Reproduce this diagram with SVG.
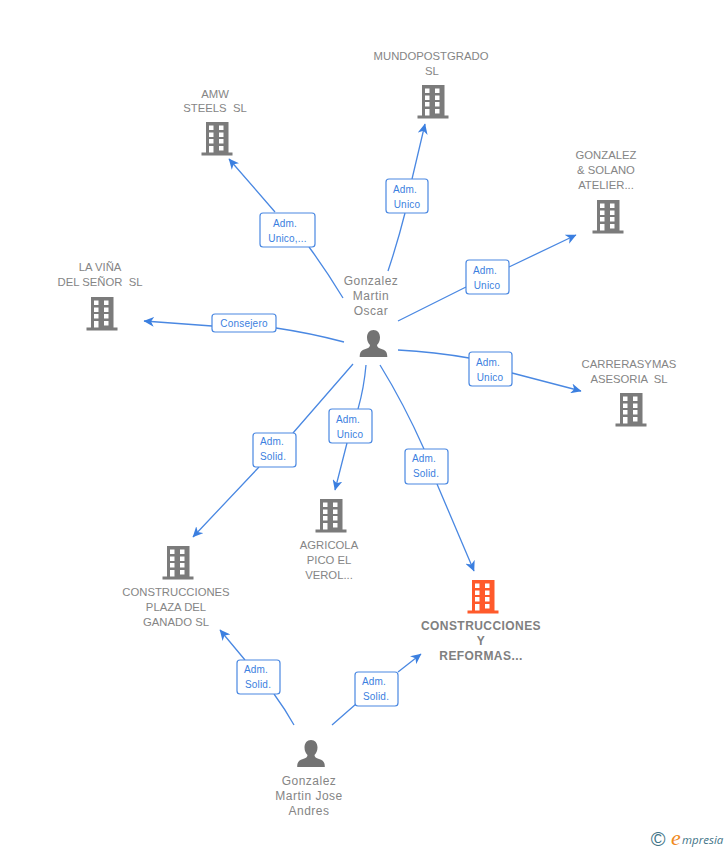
<svg xmlns="http://www.w3.org/2000/svg" width="728" height="850" viewBox="0 0 728 850">
<style>
.l{font:11.3px "Liberation Sans",Arial,sans-serif;fill:#858585;text-anchor:middle;white-space:pre}
.p{font:12px "Liberation Sans",Arial,sans-serif;fill:#858585;text-anchor:middle;letter-spacing:.5px}
.b{font:bold 12px "Liberation Sans",Arial,sans-serif;fill:#808080;text-anchor:middle;letter-spacing:.43px}
.t{font:10px "Liberation Sans",Arial,sans-serif;fill:#3b7fe0;text-anchor:middle;letter-spacing:.2px}
.box{fill:#fff;stroke:#4a88e2;stroke-width:1.2}
.c{fill:none;stroke:#4a88e2;stroke-width:1.3}
</style>
<defs>
<marker id="a" viewBox="0 0 11 10" refX="10" refY="5" markerWidth="11" markerHeight="10" markerUnits="userSpaceOnUse" orient="auto"><path d="M0 0L10.500 5L0 10L3 5Z" fill="#3b7fe0"/></marker>
<symbol id="bld" viewBox="-17 0 34 34" width="34" height="34" overflow="visible">
<path fill-rule="evenodd" fill="currentColor" d="M-11 0H11.500V30.500H15.500V33.500H-15.500V30.500H-11ZM-8 3.500V8H-3.500V3.500ZM2 3.500V8H6.500V3.500ZM-8 10.500V15H-3.500V10.500ZM2 10.500V15H6.500V10.500ZM-8 17V21.500H-3.500V17ZM2 17V21.500H6.500V17ZM-8 24V30.500H-3.500V24ZM2 24V28.500H6.500V24Z"/>
</symbol>
<symbol id="per" viewBox="-14 0 28 28" width="28" height="28" overflow="visible">
<path fill="#737373" d="M0 0C4 0 6.500 3 6.500 7.500C6.500 11 5 13.500 3.500 15C3.500 17 5 18 8 19C12 20.500 13.800 21.500 13.800 27H-13.800C-13.800 21.500 -12 20.500 -8 19C-5 18 -3.500 17 -3.500 15C-5 13.500 -6.500 11 -6.500 7.500C-6.500 3 -4 0 0 0Z"/>
</symbol>
</defs>
<g id="connectors">
<path class="c" d="M343 298Q326 270 309 247M275 212L229 159" marker-end="url(#a)"/>
<path class="c" d="M388 271Q398 241 405 213M412 179L425 124" marker-end="url(#a)"/>
<path class="c" d="M398 321L466 287M509 267L576 235" marker-end="url(#a)"/>
<path class="c" d="M398 350Q435 352 469 358M512 373L581 391" marker-end="url(#a)"/>
<path class="c" d="M344 342Q310 333 276 328M212 326L144 321" marker-end="url(#a)"/>
<path class="c" d="M366 365Q364 388 358 409M347 443L335 490" marker-end="url(#a)"/>
<path class="c" d="M353 364L293 433M259 467L193 537" marker-end="url(#a)"/>
<path class="c" d="M380 365Q404 404 424 449M437 484L474 571" marker-end="url(#a)"/>
<path class="c" d="M294 725Q285 709 274 694M245 660L220 630" marker-end="url(#a)"/>
<path class="c" d="M332 725L356 704M398 672L421 654" marker-end="url(#a)"/>
</g>
<g id="e1"><rect class="box" x="260" y="213" width="55" height="34" rx="3"/><text class="t" x="285" y="227">Adm.</text><text class="t" x="287.500" y="242">Unico,...</text></g>
<g id="e2"><rect class="box" x="386" y="179" width="42" height="34" rx="3"/><text class="t" x="405" y="193">Adm.</text><text class="t" x="407" y="208">Unico</text></g>
<g id="e3"><rect class="box" x="466" y="260" width="43" height="34" rx="3"/><text class="t" x="485" y="274">Adm.</text><text class="t" x="487" y="289">Unico</text></g>
<g id="e4"><rect class="box" x="469" y="352" width="43" height="34" rx="3"/><text class="t" x="488" y="366">Adm.</text><text class="t" x="490" y="381">Unico</text></g>
<g id="e5"><rect class="box" x="212" y="314" width="64" height="18" rx="3"/><text class="t" x="244" y="327">Consejero</text></g>
<g id="e6"><rect class="box" x="329" y="409" width="43" height="34" rx="3"/><text class="t" x="348" y="423">Adm.</text><text class="t" x="350" y="438">Unico</text></g>
<g id="e7"><rect class="box" x="253" y="433" width="43" height="34" rx="3"/><text class="t" x="272" y="445">Adm.</text><text class="t" x="273" y="460">Solid.</text></g>
<g id="e8"><rect class="box" x="405" y="449" width="43" height="35" rx="3"/><text class="t" x="424" y="462">Adm.</text><text class="t" x="426" y="477">Solid.</text></g>
<g id="e9"><rect class="box" x="237" y="660" width="43" height="34" rx="3"/><text class="t" x="256" y="673">Adm.</text><text class="t" x="258" y="688">Solid.</text></g>
<g id="e10"><rect class="box" x="355" y="672" width="43" height="34" rx="3"/><text class="t" x="374" y="685">Adm.</text><text class="t" x="376" y="700">Solid.</text></g>
<g id="oscar"><text class="p" x="371" y="285">Gonzalez</text><text class="p" x="371" y="300">Martin</text><text class="p" x="371" y="315">Oscar</text><use href="#per" x="359.500" y="330"/></g>
<g id="jose"><text class="p" x="309" y="785">Gonzalez</text><text class="p" x="309" y="800">Martin Jose</text><text class="p" x="309" y="815">Andres</text><use href="#per" x="297" y="740"/></g>
<g id="amw" color="#7b7b7b"><text class="l" x="215" y="98">AMW</text><text class="l" x="215" y="112">STEELS  SL</text><use href="#bld" x="200" y="122"/></g>
<g id="mundo" color="#7b7b7b"><text class="l" x="431" y="60">MUNDOPOSTGRADO</text><text class="l" x="432" y="75">SL</text><use href="#bld" x="416" y="85"/></g>
<g id="solano" color="#7b7b7b"><text class="l" x="606" y="159">GONZALEZ</text><text class="l" x="606" y="174">&amp; SOLANO</text><text class="l" x="606" y="189">ATELIER...</text><use href="#bld" x="591" y="200"/></g>
<g id="vina" color="#7b7b7b"><text class="l" x="100" y="271">LA VIÑA</text><text class="l" x="100" y="286">DEL SEÑOR  SL</text><use href="#bld" x="85" y="297"/></g>
<g id="carreras" color="#7b7b7b"><text class="l" x="629" y="368">CARRERASYMAS</text><text class="l" x="629" y="383">ASESORIA  SL</text><use href="#bld" x="614" y="393"/></g>
<g id="agricola" color="#7b7b7b"><use href="#bld" x="314" y="499"/><text class="l" x="329" y="549">AGRICOLA</text><text class="l" x="329" y="564">PICO EL</text><text class="l" x="329" y="579">VEROL...</text></g>
<g id="plaza" color="#7b7b7b"><use href="#bld" x="161" y="546"/><text class="l" x="176" y="596">CONSTRUCCIONES</text><text class="l" x="176" y="611">PLAZA DEL</text><text class="l" x="176" y="626">GANADO SL</text></g>
<g id="main" color="#ff5a2b"><use href="#bld" x="466" y="580"/><text class="b" x="481" y="630">CONSTRUCCIONES</text><text class="b" x="481" y="645">Y</text><text class="b" x="481" y="660">REFORMAS...</text></g>
<g id="logo"><text x="658" y="846" font-family="Liberation Sans,sans-serif" font-size="20" fill="#3f7487" text-anchor="middle">©</text><text x="671" y="845" font-family="Liberation Serif,serif" font-style="italic" font-size="22" fill="#f08a1d">e</text><text x="682" y="844" font-family="Open Sans,sans-serif" font-style="italic" font-size="11.500" fill="#3f7487">mpresia</text></g>
</svg>
